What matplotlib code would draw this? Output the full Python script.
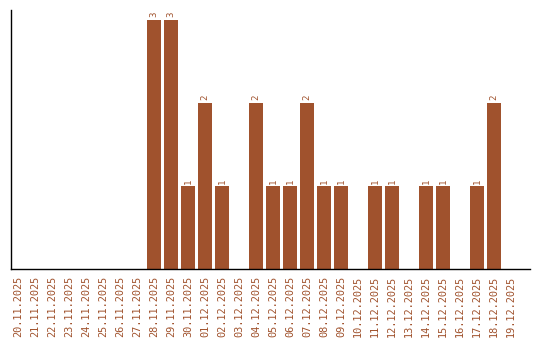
import matplotlib
matplotlib.use('Agg')
import matplotlib.pyplot as plt
import numpy as np

dates = ['20.11.2025', '21.11.2025', '22.11.2025', '23.11.2025', '24.11.2025',
         '25.11.2025', '26.11.2025', '27.11.2025', '28.11.2025', '29.11.2025',
         '30.11.2025', '01.12.2025', '02.12.2025', '03.12.2025', '04.12.2025',
         '05.12.2025', '06.12.2025', '07.12.2025', '08.12.2025', '09.12.2025',
         '10.12.2025', '11.12.2025', '12.12.2025', '13.12.2025', '14.12.2025',
         '15.12.2025', '16.12.2025', '17.12.2025', '18.12.2025', '19.12.2025']
counts = [0, 0, 0, 0, 0, 0, 0, 0, 3, 3,
          1, 2, 1, 0, 2, 1, 1, 2, 1, 1,
          0, 1, 1, 0, 1, 1, 0, 1, 2, 0]

color = '#a0522d'

fig = plt.figure(figsize=(5.4, 3.4), dpi=100)
ax = fig.add_axes([0.0204, 0.2088, 0.9611, 0.7618])

x = np.arange(len(dates))
bars = ax.bar(x, counts, width=0.8, color=color)

# value labels above the bars
for xi, v in zip(x, counts):
    if v > 0:
        ax.text(xi, v + 0.03, str(v), rotation=90, ha='center', va='bottom',
                fontsize=6.5, color=color, family='DejaVu Sans Mono')

ax.set_xlim(-0.41, 30.1)
ax.set_ylim(0, 3.12)
ax.set_xticks(x)
ax.set_xticklabels(dates, rotation=90, fontsize=7.4, color=color,
                   family='DejaVu Sans Mono')
ax.tick_params(axis='x', length=0, pad=5)
ax.set_yticks([])
ax.spines['top'].set_visible(False)
ax.spines['right'].set_visible(False)
ax.spines['left'].set_linewidth(1.0)
ax.spines['bottom'].set_linewidth(1.0)

fig.savefig('out.png', dpi=100)
